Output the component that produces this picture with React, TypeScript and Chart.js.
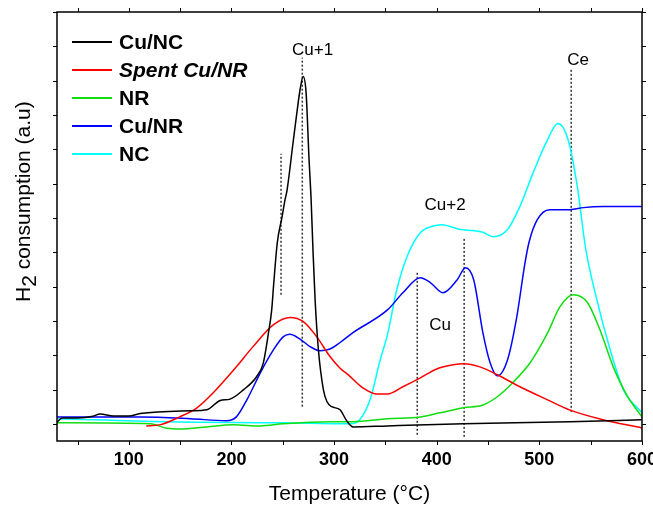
import React, { useEffect, useRef } from "react";
import { Chart, registerables } from "chart.js";

Chart.register(...registerables);

const FONT = "'Liberation Sans', Arial, Helvetica, sans-serif";

// [temperature °C, H2 consumption a.u.]
const cuNC: [number, number][] = [
  [30, 0.05], [35, 0.17], [50, 0.17], [65, 0.22], [72, 0.29], [85, 0.23], [100, 0.23],
  [111, 0.3], [160, 0.38], [176, 0.41], [189, 0.68], [198.6, 0.72], [211.6, 0.99],
  [224.6, 1.38], [231, 1.77], [236, 2.64], [239.2, 3.32], [241.2, 4.1], [244.6, 5.27],
  [249.3, 6.03], [252.2, 6.53], [254.2, 6.82], [260, 8.19], [265, 9.36], [267.2, 9.8],
  [269.8, 10.12], [272.7, 9.65], [275.6, 7.7], [277.6, 6.53], [279.5, 5.0], [281.5, 3.61],
  [284.7, 2.16], [289.6, 0.99], [293, 0.65], [297.7, 0.5], [305.8, 0.41], [312, 0.1],
  [318.5, -0.09], [352, -0.06], [426, 0], [530, 0.06], [600, 0.12],
];
const spentCuNR: [number, number][] = [
  [117, -0.06], [130, -0.03], [150, 0.21], [166, 0.46], [182, 0.9], [205, 1.67],
  [221, 2.25], [241, 2.89], [257, 3.1], [270, 2.98], [283, 2.54], [296, 1.96],
  [305.8, 1.62], [313, 1.45], [328, 1.05], [342, 0.87], [352, 0.87], [367, 1.08],
  [384, 1.34], [400, 1.6], [416, 1.72], [426, 1.75], [442, 1.66], [459, 1.43], [481, 1.08],
  [508, 0.7], [530, 0.4], [562, 0.12], [600, -0.12],
];
const nr: [number, number][] = [
  [30, 0.03], [121, 0.0], [137, -0.13], [150, -0.15], [176, -0.09], [202, -0.03],
  [228, -0.06], [250, 0], [296, 0.06], [318, 0.06], [352, 0.15], [384, 0.2], [403, 0.32],
  [426, 0.47], [445, 0.55], [459, 0.79], [474, 1.2], [491, 1.78], [508, 2.65], [520, 3.41],
  [533, 3.76], [547, 3.53], [559, 2.74], [572, 1.66], [586, 0.79], [600, 0.2],
];
const cuNR: [number, number][] = [
  [30, 0.2], [100, 0.2], [111, 0.2], [160, 0.15], [195, 0.09], [205, 0.21], [215, 0.7],
  [228, 1.48], [241, 2.16], [250.6, 2.54], [257, 2.61], [266.8, 2.47], [276.6, 2.25],
  [286.3, 2.13], [296, 2.18], [305.8, 2.37], [318, 2.65], [352, 3.32], [367, 3.82],
  [384, 4.26], [394, 4.11], [406, 3.82], [420, 4.2], [428, 4.55], [436, 4.2], [445, 2.65],
  [452, 1.78], [459, 1.4], [469, 1.87], [478, 3.12], [486, 4.69], [490, 5.3], [498, 5.95],
  [510, 6.24], [530, 6.24], [543, 6.3], [562, 6.33], [600, 6.33],
];
const nc: [number, number][] = [
  [30, 0.15], [137, 0.06], [250, 0.03], [316, 0], [325, 0.12], [335, 0.7], [345, 1.87],
  [352, 2.6], [361, 3.9], [371, 4.87], [384, 5.57], [395, 5.75], [405, 5.8], [423, 5.66],
  [436, 5.63], [445, 5.58], [455, 5.45], [469, 5.66], [481, 6.33], [494, 7.32], [508, 8.28],
  [518, 8.75], [528, 8.28], [537, 6.91], [545, 5.13], [556, 3.62], [569, 2.16], [582, 0.99],
  [600, 0.32],
];

const seriesNames = ["Cu/NC", "Spent Cu/NR", "NR", "Cu/NR", "NC"];
const seriesData = [cuNC, spentCuNR, nr, cuNR, nc];
const seriesColors = ["#000000", "#ff0000", "#11dd11", "#0000ff", "#00ffff"];

const xTickLabels = [100, 200, 300, 400, 500, 600];
const xMinorTicks = [50, 100, 150, 200, 250, 300, 350, 400, 450, 500, 550, 600];
const yTicks = [0, 1, 2, 3, 4, 5, 6, 7, 8, 9, 10, 11, 12];

// dotted guide lines: temperature, lower value, upper value
const guideT = [248.3, 269, 381, 426.7, 531];
const guideLow = [3.76, 0.5, -0.32, -0.38, 0.35];
const guideHigh = [7.87, 10.67, 4.45, 5.42, 10.32];

const peakText = ["Cu+1", "Ce", "Cu+2", "Cu"];
const peakT = [279, 537.8, 408.2, 403.3];
const peakH = [10.76, 10.47, 6.24, 2.74];

const decorPlugin = {
  id: "decor",
  afterDraw(chart: any) {
    const { ctx, chartArea: a, scales } = chart;
    const xs = scales.x;
    const ys = scales.y;
    ctx.save();
    ctx.strokeStyle = "#000";
    ctx.lineWidth = 1;
    ctx.beginPath();
    for (const v of xMinorTicks) {
      const px = Math.round(xs.getPixelForValue(v)) + 0.5;
      ctx.moveTo(px, a.bottom);
      ctx.lineTo(px, a.bottom + 4);
      ctx.moveTo(px, a.top);
      ctx.lineTo(px, a.top - 4);
    }
    for (const v of yTicks) {
      const py = Math.round(ys.getPixelForValue(v)) + 0.5;
      ctx.moveTo(a.left - 4, py);
      ctx.lineTo(a.left, py);
      ctx.moveTo(a.right, py);
      ctx.lineTo(a.right + 4, py);
    }
    ctx.stroke();
    ctx.lineWidth = 1.5;
    ctx.strokeRect(a.left, a.top, a.right - a.left, a.bottom - a.top);

    // peak labels
    ctx.fillStyle = "#000";
    ctx.font = `17px ${FONT}`;
    ctx.textAlign = "center";
    ctx.textBaseline = "alphabetic";
    peakText.forEach((t, i) => {
      ctx.fillText(t, xs.getPixelForValue(peakT[i]), ys.getPixelForValue(peakH[i]));
    });

    // legend
    ctx.textAlign = "left";
    seriesNames.forEach((name, i) => {
      const y = 42 + i * 28;
      ctx.strokeStyle = seriesColors[i];
      ctx.lineWidth = 2;
      ctx.beginPath();
      ctx.moveTo(72, y);
      ctx.lineTo(112, y);
      ctx.stroke();
      ctx.font = `${i === 1 ? "italic " : ""}bold 21px ${FONT}`;
      ctx.fillStyle = "#000";
      ctx.fillText(name, 119, y + 7);
    });

    // y title with subscript
    ctx.translate(30, 302);
    ctx.rotate(-Math.PI / 2);
    ctx.font = `21px ${FONT}`;
    ctx.textAlign = "left";
    ctx.fillStyle = "#000";
    ctx.fillText("H", 0, 0);
    const wH = ctx.measureText("H").width;
    ctx.fillText("2", wH, 6);
    const w2 = ctx.measureText("2").width;
    ctx.fillText(" consumption (a.u)", wH + w2, 0);
    ctx.restore();
  },
};

export default function App() {
  const ref = useRef<HTMLCanvasElement | null>(null);
  useEffect(() => {
    if (!ref.current) return;
    const datasets: any[] = seriesData.map((pts, i) => ({
      label: seriesNames[i],
      data: pts.map(([x, y]) => ({ x, y })),
      borderColor: seriesColors[i],
      borderWidth: 1.5,
      pointRadius: 0,
      fill: false,
      cubicInterpolationMode: "monotone",
    }));
    guideT.forEach((t, i) => {
      datasets.push({
        label: "",
        data: [
          { x: t, y: guideLow[i] },
          { x: t, y: guideHigh[i] },
        ],
        borderColor: "#333333",
        borderWidth: 1.5,
        borderDash: [2, 2],
        pointRadius: 0,
        fill: false,
      });
    });
    const chart = new Chart(ref.current, {
      type: "line",
      data: { datasets },
      options: {
        animation: false,
        responsive: false,
        devicePixelRatio: 1,
        layout: { padding: { top: 12, right: 11, left: 0, bottom: 0 } },
        plugins: { legend: { display: false }, tooltip: { enabled: false } },
        scales: {
          x: {
            type: "linear",
            min: 30,
            max: 600,
            grid: { display: false, drawTicks: false },
            border: { display: false },
            afterBuildTicks: (s: any) => {
              s.ticks = xTickLabels.map((v) => ({ value: v }));
            },
            afterFit: (s: any) => {
              s.height = 65;
              s.paddingLeft = 0;
              s.paddingRight = 0;
            },
            ticks: {
              padding: 8,
              color: "#000",
              maxRotation: 0,
              autoSkip: false,
              font: { family: FONT, size: 18, weight: "bold" },
              callback: (v: any) => String(v),
            },
            title: {
              display: true,
              text: "Temperature (°C)",
              color: "#000",
              font: { family: FONT, size: 21 },
              padding: { top: 0, bottom: -1 },
            },
          },
          y: {
            type: "linear",
            min: -0.5,
            max: 12,
            grid: { display: false, drawTicks: false },
            border: { display: false },
            ticks: { display: false },
            afterFit: (s: any) => {
              s.width = 57;
            },
          },
        },
      } as any,
      plugins: [decorPlugin],
    });
    return () => chart.destroy();
  }, []);
  return (
    <div style={{ position: "absolute", left: 0, top: 0, width: 653, height: 506, background: "#fff" }}>
      <canvas ref={ref} width={653} height={506} />
    </div>
  );
}
